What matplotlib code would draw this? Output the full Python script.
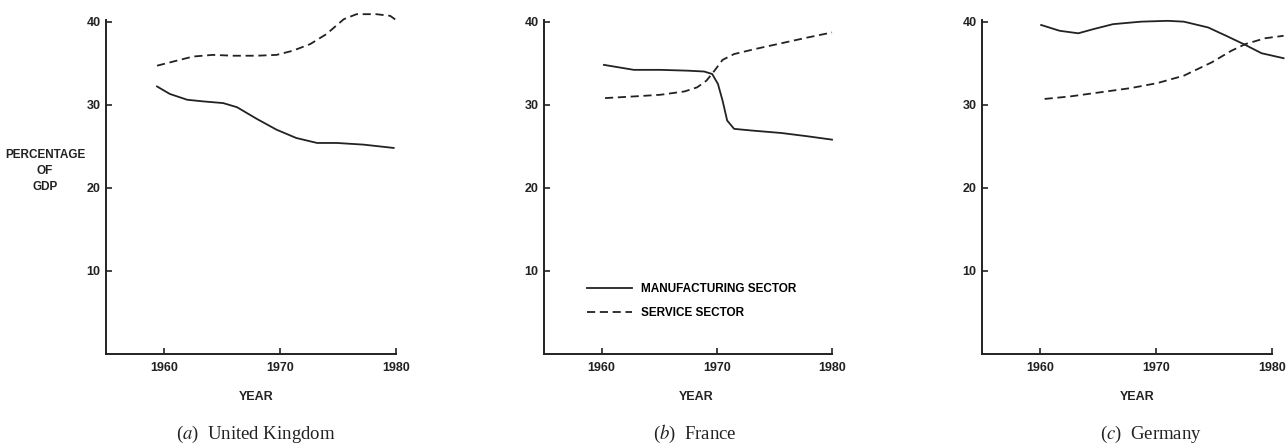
import matplotlib
matplotlib.use("Agg")
import matplotlib.pyplot as plt

# values (percentage of GDP)
uk_mfg_years = [1959.4, 1960.5, 1962.0, 1963.4, 1965.1, 1966.3, 1968.0, 1969.7, 1971.4, 1973.2, 1974.9, 1977.2, 1979.8]
uk_mfg = [32.2, 31.3, 30.6, 30.4, 30.2, 29.7, 28.3, 27.0, 26.0, 25.4, 25.4, 25.2, 24.8]
uk_srv_years = [1959.4, 1960.8, 1962.5, 1964.2, 1966.0, 1968.0, 1969.7, 1971.1, 1972.6, 1974.0, 1975.5, 1976.6, 1978.3, 1979.5, 1980.1]
uk_srv = [34.7, 35.2, 35.8, 36.0, 35.9, 35.9, 36.0, 36.5, 37.3, 38.5, 40.3, 40.9, 40.9, 40.7, 40.1]

fr_mfg_years = [1960.2, 1962.8, 1965.1, 1967.5, 1968.9, 1969.6, 1970.1, 1970.5, 1970.9, 1971.5, 1973.0, 1975.6, 1977.9, 1980.0]
fr_mfg = [34.8, 34.2, 34.2, 34.1, 34.0, 33.7, 32.5, 30.5, 28.1, 27.1, 26.9, 26.6, 26.2, 25.8]
fr_srv_years = [1960.3, 1962.8, 1965.1, 1967.2, 1968.3, 1969.1, 1969.8, 1970.5, 1971.5, 1973.3, 1975.6, 1977.9, 1980.0]
fr_srv = [30.8, 31.0, 31.2, 31.6, 32.1, 32.9, 34.1, 35.4, 36.1, 36.7, 37.4, 38.1, 38.7]

de_mfg_years = [1960.1, 1961.7, 1963.3, 1964.6, 1966.3, 1968.7, 1971.0, 1972.4, 1974.5, 1976.2, 1977.7, 1979.1, 1981.0]
de_mfg = [39.6, 38.9, 38.6, 39.1, 39.7, 40.0, 40.1, 40.0, 39.3, 38.2, 37.2, 36.2, 35.6]
de_srv_years = [1960.4, 1962.6, 1965.2, 1967.8, 1970.1, 1972.4, 1974.8, 1976.5, 1977.7, 1979.4, 1981.0]
de_srv = [30.7, 31.0, 31.5, 32.0, 32.6, 33.5, 35.1, 36.5, 37.3, 38.0, 38.3]

year_ticks = [1960, 1970, 1980]
pct_ticks = [10, 20, 30, 40]
captions = ["United Kingdom", "France", "Germany"]
letters = ["a", "b", "c"]

panels = [
    (uk_mfg_years, uk_mfg, uk_srv_years, uk_srv),
    (fr_mfg_years, fr_mfg, fr_srv_years, fr_srv),
    (de_mfg_years, de_mfg, de_srv_years, de_srv),
]

plt.rcParams["font.family"] = ["Liberation Sans", "DejaVu Sans"]
plt.rcParams["mathtext.fontset"] = "stix"
INK = "#222222"
W, H = 1286, 443
fig = plt.figure(figsize=(W / 100, H / 100), dpi=100)

lefts = [106, 544, 982]
rights = [396, 832, 1272]
top_px, bot_px = 20, 354
year_x = [256, 696, 1137]
caption_x = [256, 695, 1151]

for i, (mx, my, sx, sy) in enumerate(panels):
    ax = fig.add_axes([lefts[i] / W, 1 - bot_px / H,
                       (rights[i] - lefts[i]) / W, (bot_px - top_px) / H])
    ax.plot(mx, my, color=INK, lw=1.3, label="MANUFACTURING SECTOR", clip_on=False)
    ax.plot(sx, sy, color=INK, lw=1.3, ls=(0, (4.5, 2.6)), label="SERVICE SECTOR", clip_on=False)
    ax.set_xlim(1955, 1980)
    ax.set_ylim(0, 40.2)
    ax.set_xticks(year_ticks)
    ax.set_yticks(pct_ticks)
    for s in ("top", "right"):
        ax.spines[s].set_visible(False)
    for s in ("left", "bottom"):
        ax.spines[s].set_linewidth(1.4)
        ax.spines[s].set_color(INK)
    ax.tick_params(direction="in", length=4, width=1.2, color=INK,
                   labelsize=9, labelcolor=INK)
    ax.tick_params(axis="y", pad=4)
    ax.tick_params(axis="x", pad=6)
    for lab in ax.get_xticklabels() + ax.get_yticklabels():
        lab.set_fontweight("bold")
    fig.text(year_x[i] / W, 1 - 397 / H, "YEAR", ha="center", va="center",
             fontsize=9, fontweight="bold", color=INK)
    fig.text(caption_x[i] / W, 1 - 434 / H, rf"($\it{{{letters[i]}}}$)  {captions[i]}",
             ha="center", va="center", fontsize=13.5, family="Liberation Serif", color=INK)
    if i == 0:
        fig.text(45 / W, 1 - 171 / H, "PERCENTAGE\nOF\nGDP",
                 ha="center", va="center", fontsize=8.5, fontweight="bold",
                 color=INK, linespacing=1.45)
    if i == 1:
        ax.legend(loc="upper left", bbox_to_anchor=(0.137, 0.222), frameon=False,
                  handlelength=3.8, handletextpad=0.75, labelspacing=1.0,
                  borderaxespad=0, borderpad=0.3,
                  prop={"weight": "bold", "size": 8.5})

fig.savefig("out.png", dpi=100)
